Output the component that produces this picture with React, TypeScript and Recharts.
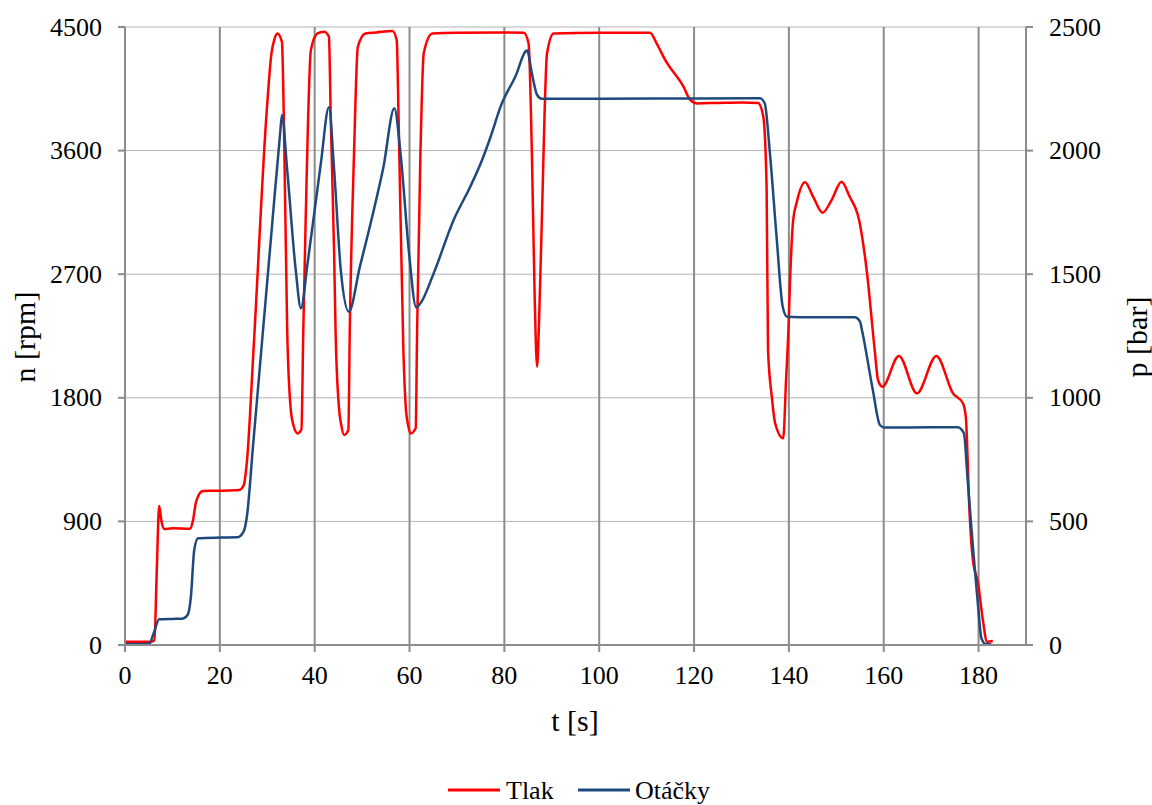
import React from 'react';
import { LineChart, Line, XAxis, YAxis, CartesianGrid, Legend } from 'recharts';

// Tlak [bar] over time [s] (right axis)
const tlakTime = [
  0, 5.5, 6.2, 6.7, 7.2, 7.7, 8.3, 10, 13.7, 14.3, 15, 16.4, 20, 24.1, 25.0, 25.7, 27.1, 29.9,
  30.9, 31.5, 32.1, 33.1, 33.5, 34.2, 34.9, 35.5, 36.4, 37.2, 37.6, 38.1, 39.2, 40.6, 42, 43, 43.4, 44.1, 44.4, 45.1, 45.6,
  46.2, 47.1, 47.4, 48.3, 49.1, 50.7, 53, 56.4, 57.3, 57.7, 58.7, 59.2, 59.7, 60.2, 61.3, 61.6, 62.3, 63, 64.8, 70,
  80, 84.1, 85.1, 85.8, 86.4, 86.9, 87.3, 87.9, 89, 90.4, 100, 110.7, 112.1, 113.9, 117.8, 119.2, 120.6, 125, 130, 133.5,
  134.6, 135.3, 135.6, 136.4, 137.1, 138.8, 139.4, 139.9, 140.2, 140.9, 141.6, 143.4, 145.1, 147.1, 149, 151.1, 152.8, 154.8, 156.4, 158.1,
  158.8, 159.7, 163.2, 167, 171.1, 174.6, 176.7, 177.3, 178.1, 178.8, 179.9, 180.9, 181.8, 183,
];
const tlakValues = [
  13, 13, 20, 300, 562, 500, 469, 472, 470, 500, 580, 623, 624, 627, 645, 740, 1193, 2164,
  2395, 2450, 2474, 2440, 2124, 1274, 964, 890, 856, 872, 1274, 1719, 2407, 2474, 2481, 2461, 2124, 1585, 1274, 964, 890,
  850, 870, 1274, 1990, 2420, 2474, 2478, 2484, 2447, 2124, 1193, 964, 890, 856, 877, 1274, 1990, 2395, 2474, 2477,
  2478, 2477, 2434, 1990, 1400, 1126, 1300, 1719, 2394, 2474, 2477, 2477, 2434, 2367, 2258, 2205, 2191, 2193, 2195, 2193,
  2137, 1854, 1193, 1004, 897, 836, 1072, 1274, 1450, 1719, 1787, 1872, 1814, 1749, 1800, 1874, 1814, 1719, 1517, 1193,
  1072, 1045, 1169, 1018, 1169, 1018, 978, 924, 533, 344, 250, 101, 13, 16,
];

// Otáčky [rpm] over time [s] (left axis)
const otackyTime = [
  0, 5.1, 6, 7.2, 10, 12.1, 13.2, 13.9, 14.6, 15.4, 20, 23.7, 25, 25.7, 27, 29, 31, 32.7, 33.1, 34.2,
  36, 37.1, 38.5, 41.3, 43, 44.1, 45.5, 47.2, 49.5, 52, 54.5, 56.8, 58.1, 59.9, 61.4, 62.3, 65.1, 69.3, 72.8, 75.3, 77.1, 79.2,
  82.3, 84.8, 85.8, 86.9, 87.9, 100, 120, 133.9, 134.9, 136, 137.4, 138.7, 139.6, 145, 153.9, 155, 155.4, 157.7, 159.2, 160.2,
  170, 175.6, 176.9, 177.7, 178.8, 179.9, 180.6, 181.5, 182.7,
];
const otackyValues = [
  7, 7, 80, 187, 190, 192, 218, 352, 692, 777, 782, 784, 825, 934, 1450, 2250, 3050, 3720, 3859, 3459,
  2731, 2452, 2779, 3508, 3915, 3459, 2731, 2427, 2750, 3100, 3480, 3908, 3580, 2852, 2459, 2488, 2707, 3095, 3337, 3532, 3701, 3920,
  4138, 4328, 4163, 4005, 3978, 3978, 3980, 3981, 3945, 3580, 2973, 2463, 2391, 2386, 2386, 2354, 2294, 1857, 1602, 1583,
  1585, 1585, 1542, 1201, 716, 279, 49, 7, 7,
];

const timeTicks = [0, 20, 40, 60, 80, 100, 120, 140, 160, 180];
const rpmTicks = [0, 900, 1800, 2700, 3600, 4500];
const barTicks = [0, 500, 1000, 1500, 2000, 2500];

const tlakData = tlakTime.map((t, i) => ({ t, p: tlakValues[i] }));
const otackyData = otackyTime.map((t, i) => ({ t, n: otackyValues[i] }));

const FONT = 'Liberation Serif';
const AXIS = '#8c8c8c';
const RED = '#ff0000';
const BLUE = '#1f497d';

// tick labels drawn as plain svg text so the serif font is applied
const xTick = (props: any) => (
  <text x={props.x} y={props.y} dy={18} textAnchor="middle" fill="#000" fontSize={26} fontFamily={FONT}>
    {props.payload.value}
  </text>
);
const yTick = (anchor: 'start' | 'end') => (props: any) => (
  <text x={props.x} y={props.y} textAnchor={anchor} dominantBaseline="central" fill="#000" fontSize={26} fontFamily={FONT}>
    {props.payload.value}
  </text>
);

const axisTitle = (x: number, y: number, text: string, rotate = false) => () => (
  <text
    x={x}
    y={y}
    transform={rotate ? `rotate(-90 ${x} ${y})` : undefined}
    textAnchor="middle"
    dominantBaseline="central"
    fill="#000"
    fontSize={30}
    fontFamily={FONT}
  >
    {text}
  </text>
);

const renderLegend = () => (
  <svg width={1152} height={36} style={{ display: 'block' }}>
    <line x1={448} x2={500} y1={18} y2={18} stroke={RED} strokeWidth={3} />
    <text x={506} y={18} dominantBaseline="central" fill="#000" fontSize={26} fontFamily={FONT}>
      Tlak
    </text>
    <line x1={578} x2={630} y1={18} y2={18} stroke={BLUE} strokeWidth={3} />
    <text x={635} y={18} dominantBaseline="central" fill="#000" fontSize={26} fontFamily={FONT}>
      Otáčky
    </text>
  </svg>
);

export default function App() {
  return (
    <div style={{ position: 'absolute', left: 0, top: 0, width: 1152, height: 805, background: '#fff' }}>
      <LineChart width={1152} height={805} margin={{ top: 27, right: 0, bottom: 0, left: 0 }}>
        <CartesianGrid yAxisId="left" vertical={false} stroke="#b4b4b4" strokeWidth={1} />
        <CartesianGrid yAxisId="left" horizontal={false} stroke={AXIS} strokeWidth={2} />
        <XAxis
          type="number"
          dataKey="t"
          domain={[0, 190]}
          ticks={timeTicks}
          allowDataOverflow
          height={124}
          tickSize={7}
          tickMargin={14}
          axisLine={{ stroke: AXIS, strokeWidth: 2 }}
          tickLine={{ stroke: AXIS, strokeWidth: 2 }}
          tick={xTick}
          label={{ content: axisTitle(575, 720, 't [s]') }}
        />
        <YAxis
          yAxisId="left"
          domain={[0, 4500]}
          ticks={rpmTicks}
          width={125}
          tickSize={7}
          tickMargin={16}
          axisLine={{ stroke: AXIS, strokeWidth: 2 }}
          tickLine={{ stroke: AXIS, strokeWidth: 2 }}
          tick={yTick('end')}
          label={{ content: axisTitle(24, 337, 'n [rpm]', true) }}
        />
        <YAxis
          yAxisId="right"
          orientation="right"
          domain={[0, 2500]}
          ticks={barTicks}
          width={126}
          tickSize={7}
          tickMargin={16}
          axisLine={{ stroke: AXIS, strokeWidth: 2 }}
          tickLine={{ stroke: AXIS, strokeWidth: 2 }}
          tick={yTick('start')}
          label={{ content: axisTitle(1136, 337, 'p [bar]', true) }}
        />
        <Legend verticalAlign="bottom" content={renderLegend} wrapperStyle={{ top: 772, left: 0 }} />
        <Line
          yAxisId="right"
          data={tlakData}
          dataKey="p"
          name="Tlak"
          type="monotone"
          stroke={RED}
          strokeWidth={2.5}
          dot={false}
          isAnimationActive={false}
        />
        <Line
          yAxisId="left"
          data={otackyData}
          dataKey="n"
          name="Otáčky"
          type="monotone"
          stroke={BLUE}
          strokeWidth={2.5}
          dot={false}
          isAnimationActive={false}
        />
      </LineChart>
    </div>
  );
}
